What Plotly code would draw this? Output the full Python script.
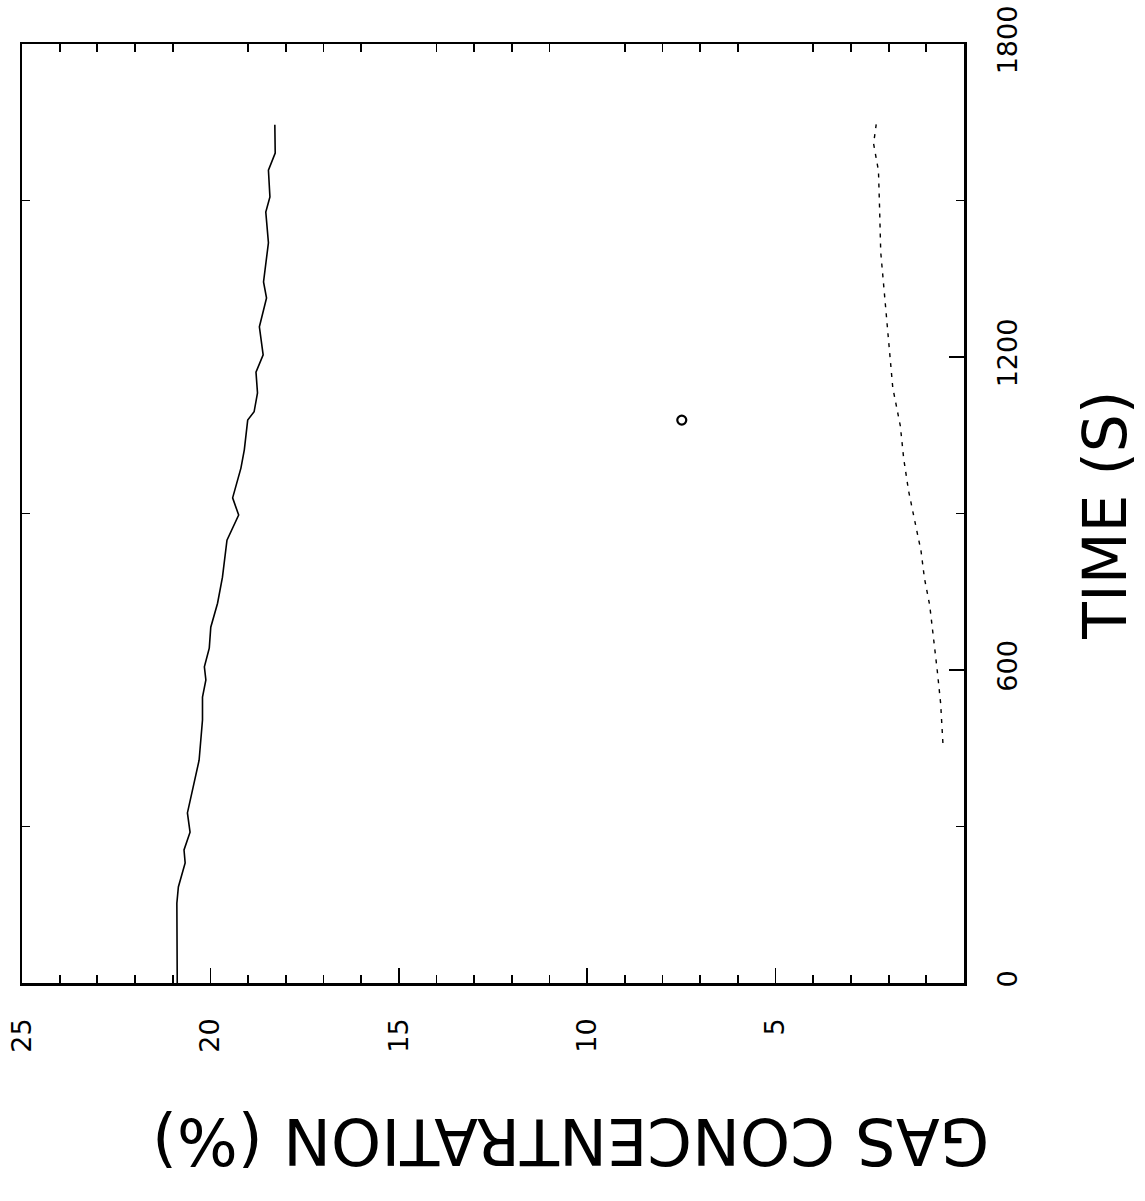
import plotly.graph_objects as go

# Solid curve (time in s, concentration in %)
solid_time = [0, 153, 184, 230, 255, 289, 326, 370, 427, 504, 548, 581, 606, 642, 682,
              728, 763, 778, 849, 897, 930, 987, 1022, 1079, 1095, 1131, 1171, 1204,
              1258, 1313, 1344, 1419, 1478, 1507, 1558, 1591, 1645]
solid_conc = [20.88, 20.89, 20.85, 20.67, 20.70, 20.54, 20.61, 20.48, 20.30, 20.21, 20.21,
              20.12, 20.16, 20.03, 19.99, 19.81, 19.72, 19.68, 19.56, 19.25, 19.41, 19.19,
              19.10, 19.01, 18.84, 18.75, 18.79, 18.60, 18.70, 18.51, 18.59, 18.46, 18.53,
              18.42, 18.46, 18.28, 18.29]

# Dashed curve
dash_time = [460, 536, 599, 661, 724, 776, 828, 880, 943, 1005, 1068, 1141, 1213, 1281,
             1338, 1401, 1484, 1557, 1609, 1646]
dash_conc = [0.56, 0.62, 0.71, 0.80, 0.91, 1.05, 1.14, 1.29, 1.47, 1.60, 1.69, 1.89, 1.98,
             2.05, 2.14, 2.21, 2.24, 2.27, 2.40, 2.33]

# Single marker
marker_time = [1079]
marker_conc = [7.49]

conc_ticks = [25, 20, 15, 10, 5]
time_ticks = [0, 600, 1200, 1800]
conc_range = [25, 0]
time_range = [0, 1800]
top_minor = [v for v in range(1, 25) if v % 5 != 0]
left_minor = [300, 900, 1500]

FONT = "DejaVu Sans"

fig = go.Figure()
fig.add_trace(go.Scatter(x=solid_conc, y=solid_time, mode="lines",
                         line=dict(color="black", width=1.6), showlegend=False))
fig.add_trace(go.Scatter(x=dash_conc, y=dash_time, mode="lines",
                         line=dict(color="black", width=1.4, dash="4px,6px"), showlegend=False))
fig.add_trace(go.Scatter(x=marker_conc, y=marker_time, mode="markers",
                         marker=dict(symbol="circle-open", color="black", size=9,
                                     line=dict(width=2.2)), showlegend=False))
# invisible traces to activate secondary axes
fig.add_trace(go.Scatter(x=[None], y=[None], xaxis="x2", yaxis="y", showlegend=False))
fig.add_trace(go.Scatter(x=[None], y=[None], xaxis="x", yaxis="y2", showlegend=False))

fig.update_layout(
    width=1145, height=1201,
    margin=dict(l=22, r=181, t=44, b=218, autoexpand=False),
    paper_bgcolor="white", plot_bgcolor="white",
    font=dict(family=FONT, color="black"),
    hovermode=False,
    xaxis=dict(range=conc_range, tickvals=conc_ticks, ticktext=[str(v) for v in conc_ticks],
               tickangle=-90, tickfont=dict(size=27, family=FONT),
               ticks="inside", ticklen=15, tickwidth=1.8, tickcolor="black",
               minor=dict(dtick=1, ticks="inside", ticklen=8, tickwidth=1.8, tickcolor="black",
                          showgrid=False),
               showline=True, linecolor="black", linewidth=2.5, automargin=False,
               showgrid=False, zeroline=False, ticklabelstandoff=22,
               ticklabeloverflow="allow"),
    xaxis2=dict(range=conc_range, overlaying="x", side="top", tickvals=top_minor,
                showticklabels=False, ticks="inside", ticklen=8, tickwidth=1.8,
                tickcolor="black", showline=True, linecolor="black", linewidth=2.5,
                showgrid=False, zeroline=False, automargin=False),
    yaxis=dict(range=time_range, side="right", tickvals=time_ticks,
               ticktext=[str(v) for v in time_ticks], tickangle=-90,
               tickfont=dict(size=27, family=FONT),
               ticks="inside", ticklen=15, tickwidth=1.8, tickcolor="black",
               minor=dict(dtick=300, ticks="inside", ticklen=8, tickwidth=1.8,
                          tickcolor="black", showgrid=False),
               showline=True, linecolor="black", linewidth=2.5, automargin=False,
               showgrid=False, zeroline=False, ticklabelstandoff=18,
               ticklabeloverflow="allow"),
    yaxis2=dict(range=time_range, overlaying="y", side="left", tickvals=left_minor,
                showticklabels=False, ticks="inside", ticklen=8, tickwidth=1.8,
                tickcolor="black", showline=True, linecolor="black", linewidth=2.5,
                showgrid=False, zeroline=False, automargin=False),
    annotations=[
        dict(text="GAS CONCENTRATION (%)", xref="paper", yref="paper", x=0.583, y=-0.169,
             xanchor="center", yanchor="middle", textangle=180, showarrow=False,
             font=dict(size=64, family=FONT, color="black")),
        dict(text="TIME (S)", xref="paper", yref="paper", x=1.15, y=0.498,
             xanchor="center", yanchor="middle", textangle=-90, showarrow=False,
             font=dict(size=60, family=FONT, color="black")),
    ],
)

fig.write_html("out.html", config={"displayModeBar": False, "staticPlot": True},
               post_script="document.body.style.margin='0';document.body.style.overflow='hidden';")
